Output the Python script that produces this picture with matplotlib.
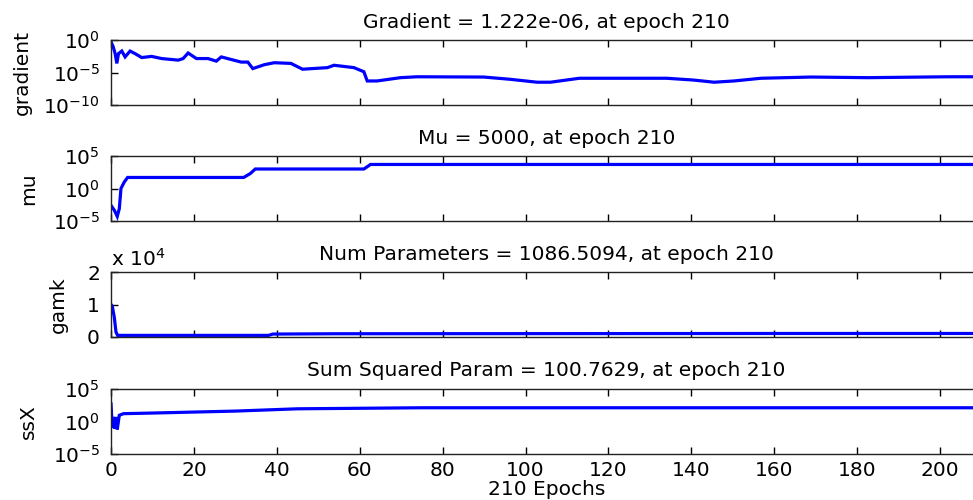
import matplotlib
matplotlib.use("Agg")
import matplotlib.pyplot as plt
from matplotlib.ticker import FuncFormatter, LogFormatterMathtext, NullLocator

# values (training record, 210 epochs)
grad_epochs = [0, 0.5, 1, 1.4, 1.8, 2.6, 3.4, 4.6, 5.8, 7.4, 9.8, 12.2, 16.2, 17.4, 18.6,
               20.6, 23.4, 25.4, 26.6, 29, 31.4, 33, 34.2, 37, 39.4, 43.4, 46.2, 52.2,
               53.8, 58.6, 61, 61.8, 64.2, 69.8, 73.8, 89.9, 96.3, 102.8, 106, 113, 134,
               140.4, 145.5, 150.3, 156.8, 168.9, 182.5, 201.8, 210]
grad_values = [5e-1, 1e-1, 8e-3, 2.5e-4, 8e-3, 2e-2, 2.5e-3, 2e-2, 8e-3, 2e-3, 3e-3,
               1.4e-3, 8e-4, 1.4e-3, 1e-2, 1.4e-3, 1.4e-3, 5.6e-4, 2.5e-3, 1e-3, 4e-4,
               4e-4, 4e-5, 1.6e-4, 3.2e-4, 2.5e-4, 3.2e-5, 5.6e-5, 1.3e-4, 5.6e-5,
               1.3e-5, 5e-7, 5e-7, 1.6e-6, 2.2e-6, 2e-6, 9e-7, 3.2e-7, 3.2e-7, 1.3e-6,
               1.3e-6, 7e-7, 3.2e-7, 5e-7, 1.3e-6, 2e-6, 1.6e-6, 2.2e-6, 2.2e-6]

mu_epochs = [0, 0.8, 1.5, 2, 2.4, 3.2, 4, 32, 33.6, 34.8, 61, 62.6, 210]
mu_values = [2.5e-3, 4.5e-4, 5e-5, 8e-4, 1, 10, 50, 50, 200, 1000, 1000, 5000, 5000]

gamk_epochs = [0, 0.3, 0.8, 1.2, 1.6, 38, 39, 54, 120, 163, 210]
gamk_values = [10000, 9500, 6000, 1500, 500, 500, 900, 1000, 1050, 1086, 1086]

ssx_epochs = [0, 0.3, 0.6, 0.9, 1.2, 1.5, 2, 3, 10, 30, 45, 75, 120, 210]
ssx_values = [500, 0.1, 5, 0.08, 5, 0.06, 9, 16, 20, 40, 90, 130, 130, 130]

titles = ["Gradient = 1.222e-06, at epoch 210",
          "Mu = 5000, at epoch 210",
          "Num Parameters = 1086.5094, at epoch 210",
          "Sum Squared Param = 100.7629, at epoch 210"]
ylabels = ["gradient", "mu", "gamk", "ssX"]
label_x = [-0.091, -0.084, -0.05, -0.084]
xticks = list(range(0, 201, 20))

plt.rcParams['font.family'] = ['DejaVu Sans']
plt.rcParams['mathtext.default'] = 'regular'
plt.rcParams['axes.unicode_minus'] = False
fs = 14.5

fig = plt.figure(figsize=(9.73, 5), dpi=100)
left, width = 0.1141, 0.8947
bottoms = [0.79, 0.558, 0.326, 0.092]

series = [(grad_epochs, grad_values), (mu_epochs, mu_values),
          (gamk_epochs, gamk_values), (ssx_epochs, ssx_values)]
ylims = [(1e-10, 1), (1e-5, 1e5), (0, 20000), (1e-5, 1e5)]
yticks = [[1e-10, 1e-5, 1], [1e-5, 1, 1e5], [0, 10000, 20000], [1e-5, 1, 1e5]]

for i in range(4):
    ax = fig.add_axes([left, bottoms[i], width, 0.13])
    ep, val = series[i]
    ax.plot(ep, val, color='#0000ff', lw=2.3, solid_joinstyle='miter')
    if i != 2:
        ax.set_yscale('log')
        ax.yaxis.set_major_formatter(LogFormatterMathtext())
        ax.yaxis.set_minor_locator(NullLocator())
    else:
        ax.yaxis.set_major_formatter(FuncFormatter(lambda v, p: '%d' % round(v / 1e4)))
        ax.text(0.0, 1.03, r'x 10$^{4}$', transform=ax.transAxes, fontsize=fs,
                ha='left', va='bottom')
    ax.set_ylim(*ylims[i])
    ax.set_yticks(yticks[i])
    ax.set_xlim(0, 210)
    ax.set_xticks(xticks)
    if i < 3:
        ax.set_xticklabels([])
    ax.tick_params(direction='in', top=True, right=True, length=5, width=1.0,
                   labelsize=fs, pad=8)
    ax.tick_params(axis='x', pad=5)
    for s in ax.spines.values():
        s.set_linewidth(1.0)
        s.set_color('#222222')
    ax.set_title(titles[i], fontsize=fs, pad=9)
    ax.set_ylabel(ylabels[i], fontsize=fs)
    ax.yaxis.set_label_coords(label_x[i], 0.5)
    if i == 3:
        ax.set_xlabel("210 Epochs", fontsize=fs, labelpad=0)

fig.savefig("out.png", dpi=100)
